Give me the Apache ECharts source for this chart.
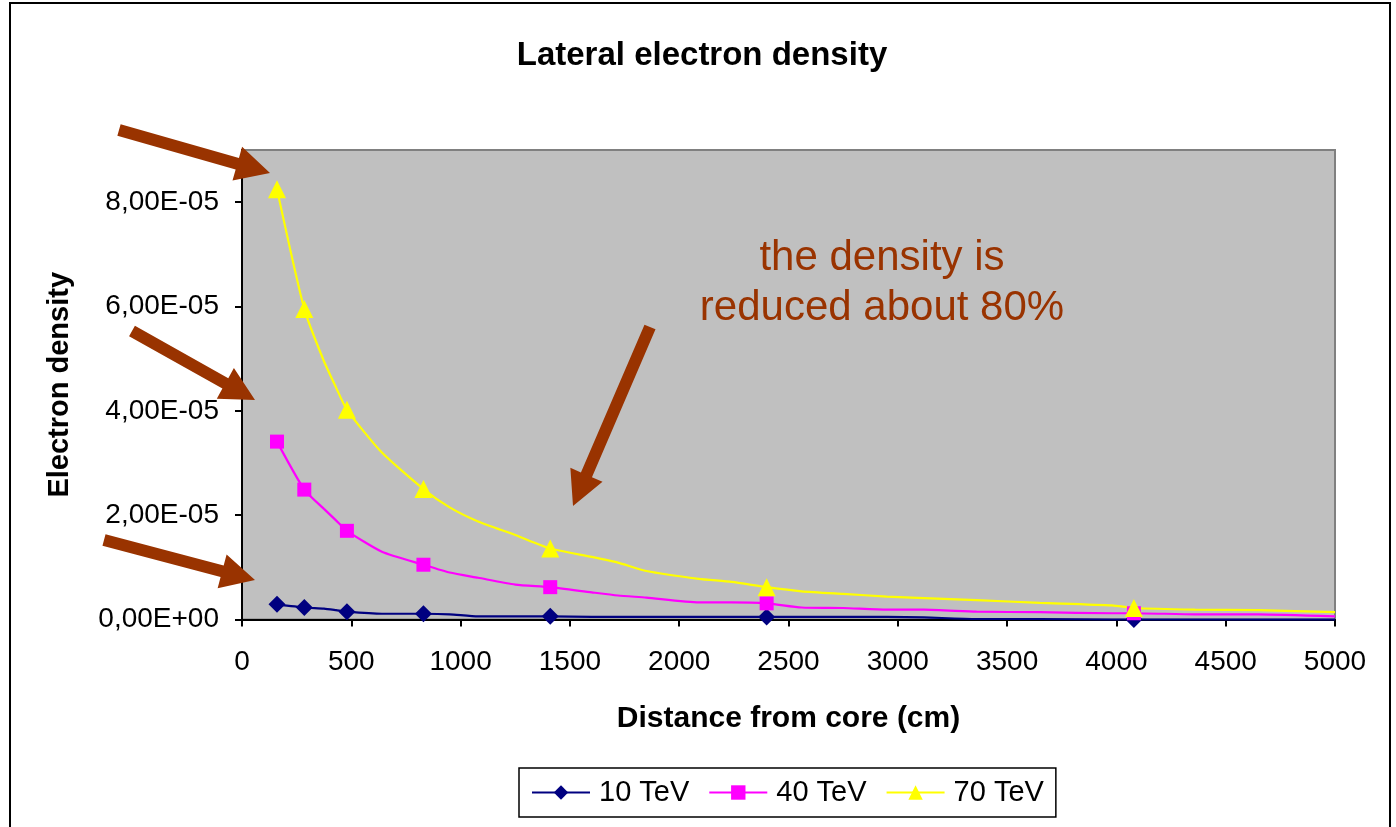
<!DOCTYPE html>
<html>
<head>
<meta charset="utf-8">
<script src="https://cdn.jsdelivr.net/npm/echarts@6/dist/echarts.min.js"></script>
<style>
html,body{margin:0;padding:0;background:#fff;}
#chart{width:1396px;height:827px;}
</style>
</head>
<body>
<div id="chart"></div>
<script>
// ---- data ----
const seriesNames = ['10 TeV', '40 TeV', '70 TeV'];
const distance = [160, 285, 375, 430, 480, 640, 830, 950, 1080, 1250, 1410, 1600, 1720, 1850, 2090, 2240, 2400, 2560, 2750, 2950, 3120, 3360, 3650, 3980, 4080, 4360, 4650, 5000];
const markedDistance = [160, 285, 480, 830, 1410, 2400, 4080];
const density10 = [2.9e-6, 2.3e-6, 2.1e-6, 1.8e-6, 1.5e-6, 1.1e-6, 1.1e-6, 1.0e-6, 0.6e-6, 0.6e-6, 0.6e-6, 0.5e-6, 0.5e-6, 0.5e-6, 0.5e-6, 0.5e-6, 0.5e-6, 0.5e-6, 0.5e-6, 0.5e-6, 0.4e-6, 0.1e-6, 0.1e-6, 0, 0, 0, 0, 0];
const density40 = [3.41e-5, 2.49e-5, 2.12e-5, 1.90e-5, 1.70e-5, 1.30e-5, 1.05e-5, 0.90e-5, 0.80e-5, 0.67e-5, 0.62e-5, 0.52e-5, 0.46e-5, 0.42e-5, 0.33e-5, 0.33e-5, 0.31e-5, 0.23e-5, 0.22e-5, 0.19e-5, 0.19e-5, 0.15e-5, 0.14e-5, 0.12e-5, 0.12e-5, 0.10e-5, 0.10e-5, 0.06e-5];
const density70 = [8.25e-5, 5.95e-5, 4.95e-5, 4.45e-5, 4.02e-5, 3.20e-5, 2.50e-5, 2.15e-5, 1.88e-5, 1.62e-5, 1.36e-5, 1.20e-5, 1.09e-5, 0.93e-5, 0.78e-5, 0.72e-5, 0.62e-5, 0.54e-5, 0.49e-5, 0.44e-5, 0.41e-5, 0.37e-5, 0.32e-5, 0.27e-5, 0.22e-5, 0.19e-5, 0.18e-5, 0.14e-5];
const yTicks = [0, 2e-5, 4e-5, 6e-5, 8e-5];
const xTickStep = 500;
const titleText = 'Lateral electron density';
const xName = 'Distance from core (cm)';
const yName = 'Electron density';
const noteLines = ['the density is', 'reduced about 80%'];

// ---- helpers ----
function sci(v) {
  if (v === 0) return '0,00E+00';
  const e = Math.floor(Math.log10(Math.abs(v)) + 1e-9);
  const m = v / Math.pow(10, e);
  return m.toFixed(2).replace('.', ',') + 'E' + (e < 0 ? '-' : '+') + String(Math.abs(e)).padStart(2, '0');
}
function buildData(ys) {
  return distance.map((d, i) => {
    const item = { value: [d, ys[i]] };
    if (markedDistance.indexOf(d) < 0) item.symbol = 'none';
    return item;
  });
}
function arrowPoints(x1, y1, x2, y2, sw, hl, hw) {
  const dx = x2 - x1, dy = y2 - y1, L = Math.hypot(dx, dy);
  const ux = dx / L, uy = dy / L, px = -uy, py = ux;
  const bx = x2 - ux * hl, by = y2 - uy * hl;
  return [
    [x1 + px * sw / 2, y1 + py * sw / 2],
    [bx + px * sw / 2, by + py * sw / 2],
    [bx + px * hw / 2, by + py * hw / 2],
    [x2, y2],
    [bx - px * hw / 2, by - py * hw / 2],
    [bx - px * sw / 2, by - py * sw / 2],
    [x1 - px * sw / 2, y1 - py * sw / 2]
  ];
}
const FONT = '"Liberation Sans", Arial, sans-serif';
const BROWN = '#993300';
const arrows = [
  [119, 130, 270, 173],
  [132, 331, 255, 400],
  [104, 540, 255, 580],
  [650, 327, 573, 506]
];

const chart = echarts.init(document.getElementById('chart'), null, { renderer: 'canvas' });
const colors = ['#000080', '#FF00FF', '#FFFF00'];
const symbols = ['diamond', 'rect', 'triangle'];
const sizes = [17, 14, 18];
const datasets = [density10, density40, density70];

const option = {
  animation: false,
  backgroundColor: '#ffffff',
  title: {
    text: titleText,
    left: 697,
    top: 34,
    textAlign: 'center',
    textStyle: { fontFamily: FONT, fontSize: 33, fontWeight: 'bold', color: '#000' }
  },
  legend: {
    left: 519,
    top: 768,
    orient: 'horizontal',
    data: seriesNames,
    borderColor: '#000',
    borderWidth: 1.5,
    borderRadius: 0,
    padding: [10, 12, 10, 12],
    itemWidth: 58,
    itemHeight: 18,
    itemGap: 19,
    textStyle: { fontFamily: FONT, fontSize: 29, color: '#000', padding: [0, 0, 0, 4] }
  },
  grid: {
    left: 242, top: 150, width: 1093, height: 469.5,
    show: true, backgroundColor: '#C0C0C0', borderColor: '#808080', borderWidth: 2
  },
  xAxis: {
    type: 'value', min: 0, max: 5000, interval: xTickStep,
    name: xName, nameLocation: 'middle', nameGap: 84,
    nameTextStyle: { fontFamily: FONT, fontSize: 30, fontWeight: 'bold', color: '#000' },
    axisLine: { show: true, onZero: false, lineStyle: { color: '#000', width: 2 } },
    axisTick: { show: true, inside: false, length: 7, lineStyle: { color: '#000', width: 2 } },
    axisLabel: { fontFamily: FONT, fontSize: 28, color: '#000', margin: 29, formatter: v => String(v) },
    splitLine: { show: false }
  },
  yAxis: {
    type: 'value', min: 0, max: 9e-5,
    name: yName, nameLocation: 'middle', nameGap: 168, nameRotate: 90,
    nameTextStyle: { fontFamily: FONT, fontSize: 29, fontWeight: 'bold', color: '#000' },
    axisLine: { show: true, lineStyle: { color: '#000', width: 2 } },
    axisTick: { show: true, inside: false, length: 7, lineStyle: { color: '#000', width: 2 }, customValues: yTicks },
    axisLabel: { fontFamily: FONT, fontSize: 28, color: '#000', margin: 23, customValues: yTicks, formatter: sci },
    splitLine: { show: false }
  },
  series: seriesNames.map((n, i) => ({
    name: n,
    type: 'line',
    data: buildData(datasets[i]),
    symbol: symbols[i],
    symbolSize: sizes[i],
    showAllSymbol: true,
    smooth: 0.2,
    clip: false,
    lineStyle: { color: colors[i], width: 2.2 },
    itemStyle: { color: colors[i], borderWidth: 0 },
    emphasis: { disabled: true }
  })),
  graphic: [
    {
      type: 'rect', silent: true, z: 100,
      shape: { x: 10, y: 3, width: 1380, height: 840 },
      style: { fill: 'none', stroke: '#000', lineWidth: 2 }
    },
    ...arrows.map(a => ({
      type: 'polygon', silent: true, z: 100,
      shape: { points: arrowPoints(a[0], a[1], a[2], a[3], 12, 34, 35) },
      style: { fill: BROWN }
    })),
    ...noteLines.map((t, i) => ({
      type: 'text', silent: true, z: 100,
      x: 882, y: 258 + i * 50,
      style: { text: t, fill: BROWN, font: '42px ' + FONT, textAlign: 'center', textVerticalAlign: 'middle' }
    }))
  ]
};
chart.setOption(option);
</script>
</body>
</html>
